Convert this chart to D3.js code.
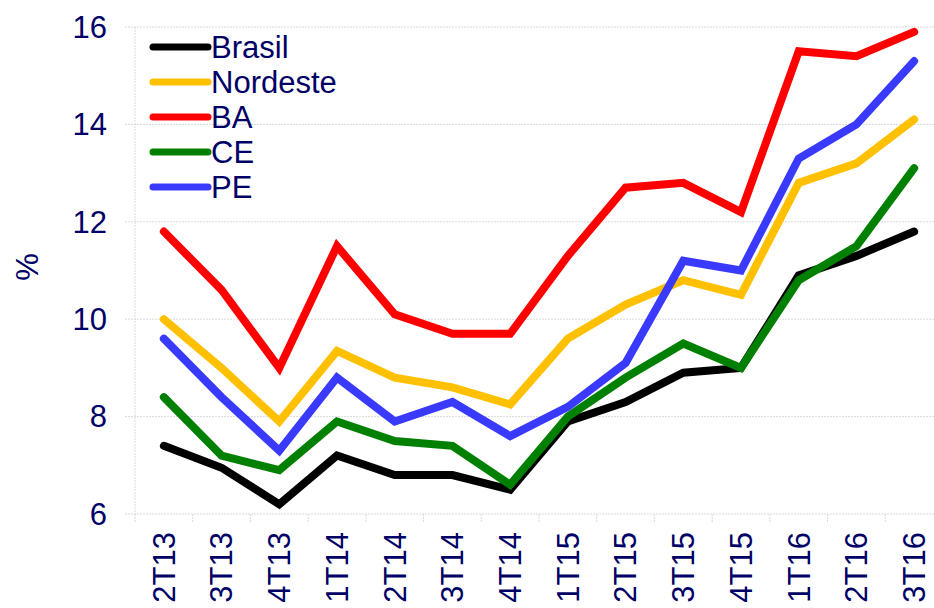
<!DOCTYPE html>
<html>
<head>
<meta charset="utf-8">
<script src="https://cdn.jsdelivr.net/npm/d3@7"></script>
<style>
  body { margin: 0; background: #fff; }
  svg { display: block; font-family: "Liberation Sans", Arial, sans-serif; }
</style>
</head>
<body>
<svg></svg>
<script>
const width = 934, height = 608;

// data
const quarters = ["2T13", "3T13", "4T13", "1T14", "2T14", "3T14", "4T14", "1T15", "2T15", "3T15", "4T15", "1T16", "2T16", "3T16"];
const brasil   = [7.4, 6.95, 6.2, 7.2, 6.8, 6.8, 6.5, 7.9, 8.3, 8.9, 9.0, 10.9, 11.3, 11.8];
const nordeste = [10.0, 9.0, 7.9, 9.35, 8.8, 8.6, 8.25, 9.6, 10.3, 10.8, 10.5, 12.8, 13.2, 14.1];
const ba       = [11.8, 10.6, 9.0, 11.5, 10.1, 9.7, 9.7, 11.3, 12.7, 12.8, 12.2, 15.5, 15.4, 15.9];
const ce       = [8.4, 7.2, 6.9, 7.9, 7.5, 7.4, 6.6, 8.0, 8.8, 9.5, 9.0, 10.8, 11.5, 13.1];
const pe       = [9.6, 8.4, 7.3, 8.8, 7.9, 8.3, 7.6, 8.2, 9.1, 11.2, 11.0, 13.3, 14.0, 15.3];
const yTicks = [6, 8, 10, 12, 14, 16];

const series = [
  {name: "Brasil", values: brasil, color: "#000000"},
  {name: "Nordeste", values: nordeste, color: "#FFC000"},
  {name: "BA", values: ba, color: "#FF0000"},
  {name: "CE", values: ce, color: "#008000"},
  {name: "PE", values: pe, color: "#3A3AFF"}
];

const textColor = "#000066";
const fontSize = 31;
const margin = {top: 27, left: 135, right: -9, bottom: 94};
const innerW = width - margin.left - margin.right,
    innerH = height - margin.top - margin.bottom;

const svg = d3.select("svg").attr("width", width).attr("height", height);
const g = svg.append("g").attr("transform", `translate(${margin.left},${margin.top})`);

const x = d3.scaleBand().domain(quarters).range([0, innerW]);
const y = d3.scaleLinear().domain([6, 16]).range([innerH, 0]);

// gridlines
g.append("g").selectAll("line").data(yTicks).enter().append("line")
    .attr("x1", -10).attr("x2", innerW)
    .attr("y1", d => y(d)).attr("y2", d => y(d))
    .attr("stroke", "#d9d9d9").attr("stroke-width", 1)
    .attr("stroke-dasharray", "2,1");

// y axis line
g.append("line").attr("x1", 0).attr("x2", 0).attr("y1", 0).attr("y2", innerH)
    .attr("stroke", "#d9d9d9").attr("stroke-dasharray", "2,1");

// x tick marks at band boundaries
g.append("g").selectAll("line").data(quarters).enter().append("line")
    .attr("x1", d => x(d)).attr("x2", d => x(d))
    .attr("y1", innerH).attr("y2", innerH + 9)
    .attr("stroke", "#d9d9d9").attr("stroke-dasharray", "2,1");

// y labels
g.append("g").selectAll("text").data(yTicks).enter().append("text")
    .attr("x", -28).attr("y", d => y(d)).attr("dy", "0.35em")
    .attr("text-anchor", "end").attr("font-size", fontSize).attr("fill", textColor)
    .text(d => d);

// x labels
g.append("g").selectAll("text").data(quarters).enter().append("text")
    .attr("transform", d => `translate(${x(d) + x.bandwidth() / 2},${innerH + 18}) rotate(-90)`)
    .attr("dy", "0.35em")
    .attr("text-anchor", "end").attr("font-size", fontSize).attr("fill", textColor)
    .text(d => d);

// % label
svg.append("text")
    .attr("transform", "translate(27,267) rotate(-90)")
    .attr("dy", "0.35em")
    .attr("text-anchor", "middle").attr("font-size", fontSize).attr("fill", textColor)
    .text("%");

// lines
const line = d3.line()
    .x((d, i) => x(quarters[i]) + x.bandwidth() / 2)
    .y(d => y(d));

g.selectAll("path.series").data(series).enter().append("path")
    .attr("class", "series")
    .attr("d", d => line(d.values))
    .attr("fill", "none")
    .attr("stroke", d => d.color)
    .attr("stroke-width", 8)
    .attr("stroke-linejoin", "miter")
    .attr("stroke-linecap", "round");

// legend
const legend = svg.append("g").attr("transform", "translate(153,47)");
const item = legend.selectAll("g").data(series).enter().append("g")
    .attr("transform", (d, i) => `translate(0,${i * 35})`);
item.append("line")
    .attr("x1", 0).attr("x2", 55).attr("y1", 0).attr("y2", 0)
    .attr("stroke", d => d.color).attr("stroke-width", 7).attr("stroke-linecap", "round");
item.append("text")
    .attr("x", 58).attr("dy", "0.35em")
    .attr("font-size", fontSize).attr("fill", textColor)
    .text(d => d.name);
</script>
</body>
</html>
